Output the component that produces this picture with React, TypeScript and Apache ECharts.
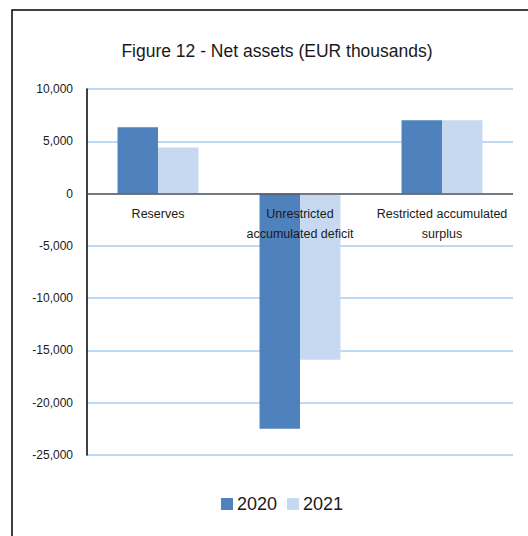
import React, { useEffect, useRef } from "react";
import * as echarts from "echarts";

const categories = ["Reserves", "Unrestricted\naccumulated deficit", "Restricted accumulated\nsurplus"];
const values2020 = [6350, -22500, 7000];
const values2021 = [4400, -15900, 7000];
const seriesNames = ["2020", "2021"];
const FONT = "'Liberation Sans Narrow', 'Liberation Sans', Arial, sans-serif";

export default function App() {
  const ref = useRef<HTMLDivElement>(null);
  useEffect(() => {
    const chart = echarts.init(ref.current!, null, { renderer: "svg" });
    chart.setOption({
      animation: false,
      backgroundColor: "#fff",
      title: {
        text: "Figure 12 - Net assets (EUR thousands)",
        left: 272,
        textAlign: "center",
        top: 37,
        textStyle: { fontFamily: FONT, fontSize: 17.5, fontWeight: "normal", color: "#1a1a1a" },
      },
      graphic: [
        {
          type: "rect",
          shape: { x: 12, y: 10, width: 540, height: 560 },
          style: { fill: "none", stroke: "#000", lineWidth: 1.5 },
          z: 100,
        },
      ],
      legend: {
        data: seriesNames,
        bottom: 18,
        left: 216,
        itemWidth: 12,
        itemHeight: 12,
        itemGap: 10,
        icon: "rect",
        textStyle: { fontFamily: FONT, fontSize: 18, color: "#1a1a1a", padding: [0, 0, 0, -1] },
      },
      grid: { left: 87, right: 15, top: 89, bottom: 81 },
      xAxis: {
        type: "category",
        data: categories,
        z: 10,
        offset: -263,
        axisLine: { show: false, onZero: false },
        axisTick: { show: false },
        axisLabel: { interval: 0, fontFamily: FONT, fontSize: 12.5, color: "#1a1a1a", margin: 12, lineHeight: 20 },
      },
      yAxis: {
        type: "value",
        min: -25000,
        max: 10000,
        interval: 5000,
        axisLine: { show: true, lineStyle: { color: "#000", width: 1.5 } },
        axisTick: { show: false },
        splitLine: { lineStyle: { color: "#A9CDF2", width: 1.5 } },
        axisLabel: {
          fontFamily: FONT,
          fontSize: 12,
          color: "#1a1a1a",
          margin: 14,
          formatter: (v: number) => v.toLocaleString("en-US"),
        },
      },
      series: [
        {
          name: seriesNames[0],
          type: "bar",
          data: values2020,
          barGap: "0%",
          barCategoryGap: "43%",
          itemStyle: { color: "#4F81BD" },
          markLine: {
            silent: true,
            symbol: "none",
            label: { show: false },
            lineStyle: { color: "#595959", width: 1.5, type: "solid" },
            data: [{ yAxis: 0 }],
          },
        },
        {
          name: seriesNames[1],
          type: "bar",
          data: values2021,
          itemStyle: { color: "#C6D9F1" },
        },
      ],
    });
    return () => chart.dispose();
  }, []);
  return <div ref={ref} style={{ position: "fixed", left: 0, top: 0, width: 528, height: 536 }} />;
}
